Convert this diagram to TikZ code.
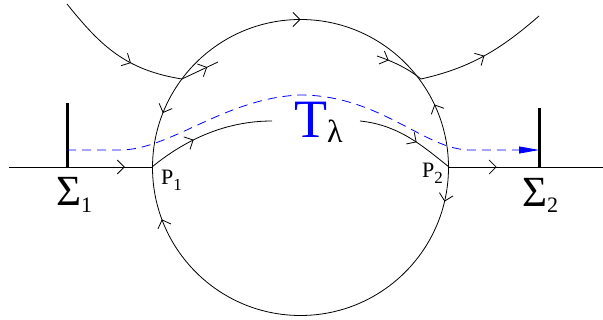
\documentclass[tikz,border=0pt]{standalone}
\usepackage{fontspec}
\setmainfont{Liberation Serif}
\newfontfamily\lblfont{Liberation Serif}
\usetikzlibrary{arrows.meta, decorations.markings}

\begin{document}
\begin{tikzpicture}[x=1pt, y=-1pt,
    flow/.style={line width=0.8pt},
    mid arrow/.style={postaction={decorate}, decoration={markings,
        mark=at position #1 with {\arrow{Straight Barb[length=7pt, width=14pt]}}}},
    ring arrows/.style={postaction={decorate}, decoration={markings,
        mark=at position 0.037 with {\arrow{Straight Barb[length=7pt, width=14pt]}},
        mark=at position 0.443 with {\arrow{Straight Barb[length=7pt, width=14pt]}},
        mark=at position 0.560 with {\arrowreversed{Straight Barb[length=7pt, width=14pt]}},
        mark=at position 0.750 with {\arrow{Straight Barb[length=7pt, width=14pt]}},
        mark=at position 0.930 with {\arrowreversed{Straight Barb[length=7pt, width=14pt]}}}},
    section/.style={line width=3pt},
    tube/.style={blue, line width=0.8pt, dash pattern=on 9pt off 6pt},
    lbl/.style={inner sep=0pt, anchor=base west, font=\lblfont}
]
\useasboundingbox (0,0) rectangle (603,320);

% the ball and its two points on the axis
\coordinate (c) at (300.5,167.5);
\coordinate (p1) at (152,167);
\coordinate (p2) at (449,167);
\draw[flow, ring arrows] (c) circle[radius=148];

% axis through the ball
\coordinate (left end) at (9,167);
\coordinate (right end) at (603,167);
\draw[flow, mid arrow=0.81] (left end) -- (p1);
\draw[flow, mid arrow=0.31] (p2) -- (right end);

% sections
\coordinate (s1) at (67,167);
\coordinate (s1 top) at (67,103);
\coordinate (s2) at (539,167);
\coordinate (s2 top) at (539,108);
\draw[section] (s1) -- (s1 top);
\draw[section] (s2) -- (s2 top);

% orbits near the ball
\coordinate (a in) at (67,4);
\coordinate (a hit) at (182,79);
\coordinate (a out) at (218,62);
\draw[flow, mid arrow=0.62] (a in) .. controls (100,45) and (125,70) .. (a hit);
\draw[flow, mid arrow=0.7] (a hit) -- (a out);
\coordinate (b in) at (377,56);
\coordinate (b hit) at (421,79);
\coordinate (b out) at (539,16);
\draw[flow, mid arrow=0.25] (b in) .. controls (395,62) and (410,70) .. (b hit);
\draw[flow, mid arrow=0.5] (b hit) .. controls (470,68) and (500,50) .. (b out);

% inner branches
\coordinate (q1) at (272,121);
\coordinate (q2) at (360,121);
\draw[flow, mid arrow=0.38] (p1) .. controls (185,140) and (225,121) .. (q1);
\draw[flow, mid arrow=0.6] (q2) .. controls (400,125) and (425,148) .. (p2);

% tube
\coordinate (t1) at (67,150);
\coordinate (t2) at (539,150);
\draw[tube, -{Triangle[length=20pt, width=7pt]}] (t1) -- (120,150)
    .. controls (170,150) and (225,98) .. (300,95)
    .. controls (380,95) and (425,150) .. (470,150) -- (t2);

% labels
\node[lbl] (sigma1) at (56,206) {\fontsize{43}{43}\selectfont Σ\raisebox{-7pt}{\fontsize{22}{22}\selectfont 1}};
\node[lbl] (sigma2) at (522,207) {\fontsize{43}{43}\selectfont Σ\raisebox{-6pt}{\fontsize{22}{22}\selectfont 2}};
\node[lbl] (P1) at (161,185) {\fontsize{22}{22}\selectfont P\raisebox{-6pt}{\fontsize{17}{17}\selectfont 1}};
\node[lbl] (P2) at (422,178) {\fontsize{22}{22}\selectfont P\raisebox{-6pt}{\fontsize{17}{17}\selectfont 2}};
\node[lbl] (T) at (294,138) {\fontsize{54}{54}\selectfont\color{blue}T\raisebox{-5pt}{\fontsize{32}{32}\selectfont\color{black}λ}};

\end{tikzpicture}
\end{document}
